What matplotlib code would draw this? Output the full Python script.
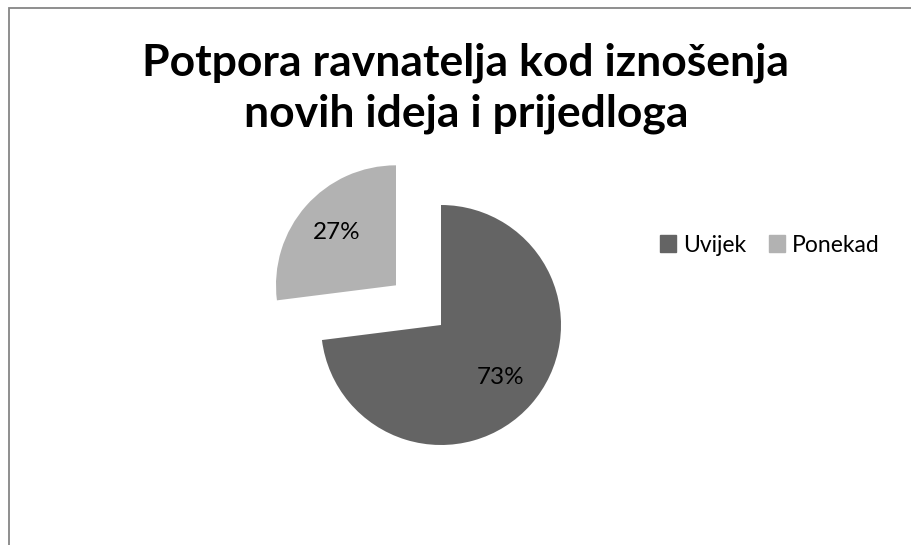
import matplotlib
matplotlib.use("Agg")
import matplotlib.pyplot as plt
from matplotlib.patches import Rectangle

# data
labels = ["Uvijek", "Ponekad"]
values = [73, 27]
colors = ["#646464", "#b2b2b2"]
title = "Potpora ravnatelja kod iznošenja\nnovih ideja i prijedloga"

plt.rcParams['font.family'] = ['Lato', 'DejaVu Sans']

W, H = 912, 545
fig = plt.figure(figsize=(W / 100, H / 100), dpi=100)
fig.patch.set_facecolor("white")

# chart border (runs past right/bottom edge)
fig.patches.append(Rectangle((9 / W, -0.1), 1.2, (H - 8.5) / H + 0.1,
                             transform=fig.transFigure, fill=False,
                             edgecolor="#868686", linewidth=1.3))

fig.text(466 / W, 1 - 88 / H, title, ha="center", va="center",
         fontsize=32, fontweight="bold", linespacing=1.32)

# pie axes: center of un-exploded slice at (441, 325) px, radius 120 px
r = 120
cx, cy = 441, 325
ax = fig.add_axes([(cx - 2 * r) / W, (H - cy - 2 * r) / H, 4 * r / W, 4 * r / H])

wedges, texts, autotexts = ax.pie(values, colors=colors, startangle=90,
                                  counterclock=False, explode=[0, 0.5],
                                  autopct="%d%%", pctdistance=0.66,
                                  textprops={"fontsize": 17.5, "color": "black"},
                                  wedgeprops={"linewidth": 0})
ax.set_xlim(-2, 2)
ax.set_ylim(-2, 2)
ax.set_aspect("equal")
ax.axis("off")

handles = [Rectangle((0, 0), 1, 1, color=c) for c in colors]
fig.legend(handles, labels, loc="center left", bbox_to_anchor=(660 / W, 1 - 245 / H),
           ncol=2, frameon=False, fontsize=16.5, handlelength=0.7, handleheight=0.7,
           handletextpad=0.3, columnspacing=1.0, borderaxespad=0, borderpad=0)

fig.savefig("out.png", dpi=100)
